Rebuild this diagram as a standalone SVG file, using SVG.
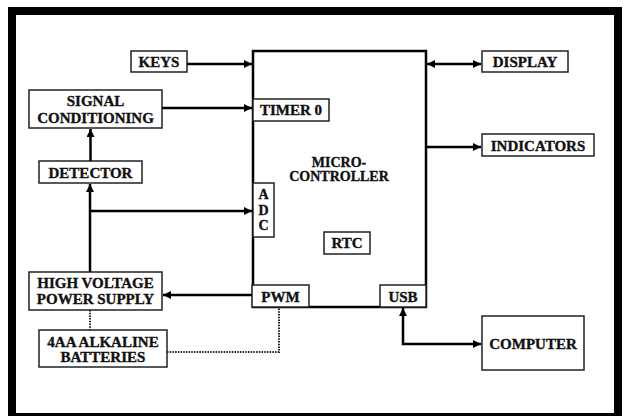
<svg xmlns="http://www.w3.org/2000/svg" width="625" height="416" viewBox="0 0 625 416">
<defs>
<marker id="ah" viewBox="0 0 10 10" refX="10" refY="5" markerWidth="9" markerHeight="8" markerUnits="userSpaceOnUse" orient="auto-start-reverse">
<path d="M0,0 L10,5 L0,10 Z" fill="#000"/>
</marker>
<style>
.box{fill:#fff;stroke:#222;stroke-width:1.5}
.mc{fill:#fff;stroke:#000;stroke-width:2.5}
.t{font-family:"Liberation Serif","Times New Roman",serif;font-weight:bold;font-size:15px;fill:#111;stroke:#111;stroke-width:0.35;text-anchor:middle}
.s{font-size:14px}
.c{fill:none;stroke:#000;stroke-width:2.5}
.d{fill:none;stroke:#222;stroke-width:2;stroke-dasharray:1.5 1.2}
</style>
</defs>
<rect x="0" y="0" width="625" height="416" fill="#fff"/>
<rect x="12" y="11" width="606" height="406" fill="none" stroke="#000" stroke-width="8"/>

<g id="microcontroller">
<rect class="mc" x="253" y="51" width="173" height="256"/>
<text class="t s" x="339" y="167">MICRO-</text>
<text class="t s" x="339" y="181">CONTROLLER</text>
</g>
<g id="timer0"><rect class="box" x="253" y="99" width="76" height="22"/><text class="t" x="291" y="115">TIMER 0</text></g>
<g id="adc"><rect class="box" x="253" y="183" width="21" height="54"/>
<text class="t s" x="263.5" y="199">A</text><text class="t s" x="263.5" y="215">D</text><text class="t s" x="263.5" y="230">C</text></g>
<g id="rtc"><rect class="box" x="324" y="232" width="46" height="22"/><text class="t" x="347" y="248">RTC</text></g>
<g id="pwm"><rect class="box" x="252" y="285" width="57" height="22"/><text class="t" x="280.5" y="302">PWM</text></g>
<g id="usb"><rect class="box" x="380" y="285" width="46" height="22"/><text class="t" x="403" y="302">USB</text></g>

<g id="keys"><rect class="box" x="131" y="51" width="56" height="21"/><text class="t" x="159" y="67">KEYS</text></g>
<g id="signal"><rect class="box" x="29" y="90" width="133" height="38"/><text class="t" x="95.5" y="106">SIGNAL</text><text class="t" x="95.5" y="123">CONDITIONING</text></g>
<g id="detector"><rect class="box" x="39" y="161" width="103" height="22"/><text class="t" x="90.5" y="178">DETECTOR</text></g>
<g id="hvps"><rect class="box" x="29" y="272" width="133" height="38"/><text class="t" x="95.5" y="288">HIGH VOLTAGE</text><text class="t" x="95.5" y="304">POWER SUPPLY</text></g>
<g id="batteries"><rect class="box" x="39" y="330" width="128" height="37"/><text class="t" x="103" y="347">4AA ALKALINE</text><text class="t" x="103" y="362">BATTERIES</text></g>
<g id="display"><rect class="box" x="482" y="51" width="86" height="21"/><text class="t" x="525" y="67">DISPLAY</text></g>
<g id="indicators"><rect class="box" x="482" y="134" width="112" height="22"/><text class="t" x="538" y="151">INDICATORS</text></g>
<g id="computer"><rect class="box" x="482" y="316" width="102" height="54"/><text class="t" x="533" y="349">COMPUTER</text></g>

<g id="connectors">
<path class="c" d="M187,64 H252" marker-end="url(#ah)"/>
<path class="c" d="M162,108 H252" marker-end="url(#ah)"/>
<path class="c" d="M90.5,161 V129" marker-end="url(#ah)"/>
<path class="c" d="M90,272 V184" marker-end="url(#ah)"/>
<path class="c" d="M90,211 H252" marker-end="url(#ah)"/>
<path class="c" d="M252,295 H163" marker-end="url(#ah)"/>
<path class="c" d="M427,64 H481" marker-start="url(#ah)" marker-end="url(#ah)"/>
<path class="c" d="M426,147 H481" marker-end="url(#ah)"/>
<path class="c" d="M403,308 V344 H481" marker-start="url(#ah)" marker-end="url(#ah)"/>
<path class="d" d="M90,310 V330"/>
<path class="d" d="M167,352 H279 V307"/>
</g>
</svg>
